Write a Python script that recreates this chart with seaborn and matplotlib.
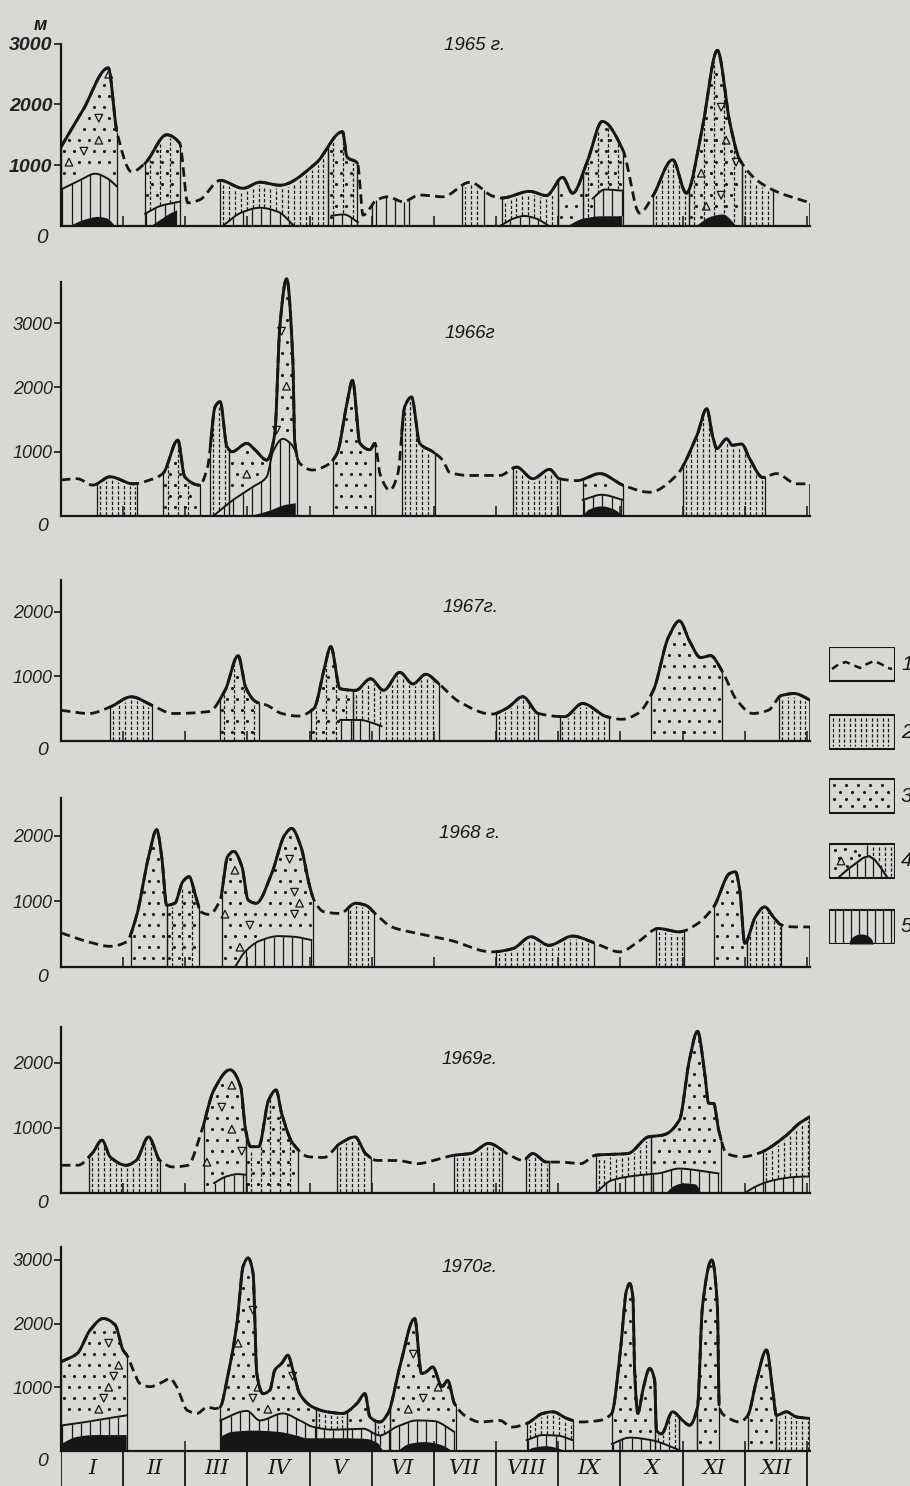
import numpy as np
import matplotlib
matplotlib.use("Agg")
import matplotlib.pyplot as plt
from matplotlib.patches import Rectangle
import seaborn as sns

sns.set_theme(style="white")
plt.rcParams['font.family'] = ['Liberation Sans', 'DejaVu Sans']

# ---------------- data (month units 0..12, values in metres) ----------------
MONTHS = ['I', 'II', 'III', 'IV', 'V', 'VI', 'VII', 'VIII', 'IX', 'X', 'XI', 'XII']
TITLES = ['1965 г.', '1966г', '1967г.', '1968 г.', '1969г.', '1970г.']
LEGEND_LABELS = ['1', '2', '3', '4', '5']

X65 = [0.00, 0.35, 0.76, 0.90, 1.14, 1.35, 1.70, 1.91, 2.04, 2.23, 2.56, 2.93, 3.20, 3.52, 4.10, 4.53, 4.60, 4.77, 4.86,
       5.08, 5.26, 5.50, 5.77, 6.14, 6.58, 6.95, 7.09, 7.54, 7.81, 8.07, 8.23, 8.46, 8.71, 9.04, 9.31, 9.52, 9.84,
       10.06, 10.32, 10.56, 10.76, 10.92, 11.40, 12.05]
Y65 = [1300, 1900, 2600, 1550, 890, 1030, 1500, 1360, 380, 430, 750, 620, 720, 670, 1030, 1550, 1140, 1030, 180,
       430, 480, 400, 510, 480, 720, 490, 460, 570, 500, 800, 540, 1040, 1720, 1250, 210, 490, 1090,
       540, 1630, 2890, 1700, 1090, 620, 380]
SEG65 = [(0.00, 0.90, 'pt'), (1.35, 1.91, 'dp'), (2.56, 4.30, 'd'), (4.30, 4.77, 'dp'), (5.00, 5.60, 'v'),
         (6.45, 6.80, 'd'), (7.09, 8.00, 'd'), (8.00, 8.40, 'p'), (8.40, 9.04, 'dp'), (9.52, 10.10, 'd'),
         (10.10, 10.95, 'dpt'), (10.95, 11.45, 'd')]
DASHFILL65 = [(5.00, 5.60), (6.45, 6.80), (10.95, 11.45)]
LOW65 = [[(0.00, 600), (0.30, 750), (0.55, 860), (0.75, 780), (0.90, 650)],
         [(1.35, 200), (1.60, 330), (1.91, 400)],
         [(2.60, 0), (2.90, 220), (3.20, 300), (3.50, 230), (3.75, 0)],
         [(4.35, 170), (4.55, 190), (4.78, 60)],
         [(7.06, 0), (7.30, 130), (7.45, 165), (7.65, 120), (7.85, 0)],
         [(8.55, 450), (8.75, 600), (9.04, 580)]]
BLK65 = [[(0.14, 0), (0.40, 110), (0.60, 150), (0.75, 120), (0.87, 0)],
         [(1.45, 0), (1.60, 100), (1.75, 200), (1.87, 260)],
         [(8.15, 0), (8.40, 120), (8.70, 160), (9.03, 160)],
         [(10.22, 0), (10.45, 150), (10.65, 190), (10.87, 0)]]

X66 = [0.00, 0.26, 0.51, 0.79, 1.16, 1.43, 1.64, 1.88, 1.99, 2.23, 2.36, 2.48, 2.56, 2.67, 2.75, 2.99, 3.12, 3.31, 3.44,
       3.52, 3.63, 3.73, 3.76, 3.84, 4.05, 4.28, 4.44, 4.60, 4.69, 4.81, 4.97, 5.05, 5.13, 5.29, 5.42, 5.53, 5.64,
       5.77, 5.98, 6.14, 6.25, 6.58, 7.06, 7.33, 7.59, 7.86, 8.02, 8.30, 8.67, 9.04, 9.47, 9.90, 10.23, 10.39, 10.48,
       10.55, 10.71, 10.80, 10.95, 11.08, 11.29, 11.51, 11.83, 12.05]
Y66 = [560, 580, 480, 610, 500, 560, 660, 1180, 610, 480, 770, 1700, 1780, 1080, 1000, 1130, 1030, 870, 1280,
       2940, 3690, 2420, 1160, 820, 715, 790, 970, 1750, 2110, 1130, 1030, 1130, 660, 400, 660, 1700, 1850,
       1130, 1000, 870, 680, 630, 630, 760, 580, 725, 580, 550, 660, 480, 370, 630, 1250, 1670, 1250,
       1050, 1200, 1100, 1120, 890, 600, 660, 500, 500]
SEG66 = [(0.58, 1.22, 'd'), (1.64, 2.23, 'dp'), (2.40, 2.70, 'd'), (2.70, 3.80, 'pt'), (4.37, 5.05, 'p'),
         (5.48, 6.01, 'd'), (7.27, 8.02, 'd'), (8.39, 9.04, 'p'), (10.00, 11.32, 'd')]
DASHFILL66 = []
LOW66 = [[(2.45, 0), (2.77, 250), (3.09, 455), (3.31, 610), (3.41, 1000), (3.57, 1200), (3.70, 1120), (3.78, 1000)],
         [(8.39, 250), (8.70, 330), (9.04, 250)]]
BLK66 = [[(3.05, 0), (3.35, 80), (3.60, 170), (3.78, 200)],
         [(8.39, 0), (8.50, 100), (8.70, 150), (8.90, 100), (9.04, 0)]]

X67 = [0.00, 0.45, 0.79, 1.13, 1.46, 1.80, 2.38, 2.64, 2.85, 2.97, 3.14, 3.31, 3.55, 3.81, 4.07, 4.23, 4.34, 4.49,
       4.74, 4.98, 5.19, 5.45, 5.66, 5.87, 6.08, 6.41, 6.93, 7.17, 7.43, 7.68, 8.10, 8.39, 8.78, 9.02, 9.28, 9.53,
       9.77, 9.95, 10.11, 10.29, 10.45, 10.63, 10.87, 11.13, 11.38, 11.59, 11.80, 12.05]
Y67 = [470, 420, 520, 680, 550, 420, 450, 780, 1320, 830, 600, 550, 420, 380, 500, 1090, 1460, 805,
       780, 960, 780, 1060, 880, 1030, 880, 600, 410, 500, 680, 420, 370, 575, 370, 330, 420, 780,
       1600, 1860, 1550, 1290, 1320, 1090, 630, 420, 470, 700, 730, 630]
SEG67 = [(0.79, 1.46, 'd'), (2.55, 3.18, 'dp'), (4.02, 4.70, 'dp'), (4.70, 6.08, 'd'), (7.00, 7.68, 'd'),
         (8.02, 8.81, 'd'), (9.49, 10.63, 'p'), (11.55, 12.05, 'd')]
DASHFILL67 = []
LOW67 = [[(4.49, 320), (4.80, 320), (5.05, 260), (5.16, 220)]]
BLK67 = []

X68 = [0.00, 0.45, 0.79, 1.05, 1.21, 1.41, 1.54, 1.62, 1.70, 1.83, 1.96, 2.06, 2.17, 2.25, 2.38, 2.56, 2.68, 2.78,
       2.91, 3.01, 3.14, 3.39, 3.60, 3.71, 3.86, 3.99, 4.07, 4.23, 4.49, 4.74, 4.90, 5.08, 5.32, 5.74, 6.25, 6.93,
       7.27, 7.56, 7.85, 8.23, 8.60, 8.99, 9.28, 9.61, 9.95, 10.21, 10.50, 10.76, 10.85, 10.92, 11.00, 11.17,
       11.32, 11.46, 11.59, 11.80, 12.05]
Y68 = [520, 380, 315, 380, 760, 1680, 2090, 1680, 940, 970, 1300, 1375, 1070, 840, 800, 1020, 1680, 1760,
       1530, 1020, 970, 1425, 2010, 2110, 1830, 1270, 1020, 840, 815, 970, 940, 790, 610, 510, 410, 230,
       280, 460, 330, 470, 360, 230, 380, 585, 535, 640, 915, 1425, 1450, 1170, 360, 760,
       915, 760, 640, 610, 610]
SEG68 = [(1.12, 1.70, 'p'), (1.70, 2.22, 'dp'), (2.59, 4.05, 'pt'), (4.61, 5.03, 'd'), (7.00, 8.57, 'd'),
         (9.57, 10.03, 'd'), (10.50, 11.04, 'p'), (11.04, 11.59, 'd')]
DASHFILL68 = []
LOW68 = [[(2.80, 0), (2.95, 220), (3.20, 400), (3.50, 470), (3.75, 460), (4.03, 410)]]
BLK68 = []

X69 = [0.00, 0.27, 0.50, 0.66, 0.79, 1.05, 1.21, 1.41, 1.59, 1.80, 2.04, 2.25, 2.46, 2.72, 2.89, 2.97, 3.05, 3.18,
       3.34, 3.46, 3.55, 3.73, 3.99, 4.23, 4.49, 4.73, 4.90, 5.08, 5.40, 5.74, 6.00, 6.33, 6.59, 6.88, 7.22, 7.43,
       7.59, 7.81, 8.02, 8.36, 8.60, 9.12, 9.45, 9.69, 9.95, 10.11, 10.24, 10.35, 10.42, 10.50, 10.58, 10.71,
       10.96, 11.21, 11.64, 11.88, 12.05]
Y69 = [425, 425, 605, 810, 555, 425, 500, 860, 500, 400, 425, 910, 1580, 1890, 1630, 965, 710, 710,
       1425, 1580, 1220, 760, 555, 545, 760, 860, 605, 500, 500, 450, 500, 580, 605, 760, 580, 500,
       605, 475, 475, 450, 580, 605, 860, 890, 1120, 2040, 2480, 1890, 1375, 1375, 965, 605,
       555, 605, 860, 1070, 1170]
SEG69 = [(0.45, 1.59, 'd'), (2.30, 2.97, 'pt'), (2.97, 3.81, 'dp'), (4.44, 4.98, 'd'), (6.33, 7.09, 'd'),
         (7.48, 7.85, 'd'), (8.60, 9.50, 'd'), (9.50, 10.62, 'p'), (11.30, 12.05, 'd')]
DASHFILL69 = []
LOW69 = [[(2.46, 150), (2.65, 250), (2.85, 290), (2.97, 280)],
         [(8.60, 0), (8.86, 195), (9.28, 270), (9.61, 300), (9.95, 375), (10.29, 340), (10.58, 300)],
         [(11.00, 0), (11.20, 110), (11.46, 195), (11.80, 245), (12.05, 255)]]
BLK69 = [[(9.72, 0), (9.85, 110), (10.00, 155), (10.20, 140), (10.30, 0)]]

X70 = [0.00, 0.26, 0.47, 0.68, 0.87, 1.00, 1.06, 1.16, 1.27, 1.43, 1.64, 1.75, 1.86, 2.03, 2.19, 2.35, 2.48, 2.56,
       2.67, 2.83, 2.93, 3.01, 3.09, 3.15, 3.25, 3.36, 3.44, 3.55, 3.65, 3.73, 3.84, 4.05, 4.28, 4.53, 4.76, 4.89,
       4.97, 5.13, 5.26, 5.45, 5.69, 5.80, 5.88, 5.98, 6.13, 6.22, 6.33, 6.53, 6.74, 7.06, 7.25, 7.49, 7.75, 7.91,
       8.14, 8.34, 8.67, 8.86, 8.99, 9.10, 9.15, 9.20, 9.23, 9.28, 9.36, 9.47, 9.55, 9.58, 9.66, 9.84, 10.00,
       10.11, 10.24, 10.32, 10.47, 10.56, 10.59, 10.71, 10.92, 11.05, 11.19, 11.35, 11.45, 11.51, 11.67, 11.83,
       12.05]
Y70 = [1400, 1530, 1900, 2080, 1980, 1580, 1505, 1270, 1060, 1010, 1085, 1140, 1010, 640, 590, 690, 665, 690,
       1110, 2000, 2900, 3030, 2790, 1215, 900, 955, 1270, 1375, 1505, 1270, 900, 690, 615, 590, 745, 900,
       535, 455, 590, 1320, 2080, 1215, 1245, 1320, 1010, 1110, 745, 535, 455, 480, 375, 430, 590, 615,
       510, 455, 480, 590, 1480, 2530, 2630, 2420, 1215, 590, 955, 1295, 1110, 325, 270, 615, 480,
       405, 690, 2270, 3000, 2270, 690, 535, 455, 560, 1110, 1585, 955, 560, 615, 535,
       510]
SEG70 = [(0.00, 1.06, 'pt'), (2.56, 4.10, 'pt'), (4.10, 4.60, 'd'), (4.60, 5.05, 'p'), (5.05, 5.30, 'd'),
         (5.30, 6.35, 'pt'), (7.49, 8.23, 'd'), (8.86, 9.55, 'p'), (9.55, 9.95, 'd'), (9.95, 10.24, ''),
         (10.24, 10.59, 'p'), (11.05, 11.50, 'p'), (11.50, 12.05, 'd')]
DASHFILL70 = []
LOW70 = [[(0.00, 400), (0.30, 440), (0.60, 490), (1.06, 560)],
         [(2.56, 480), (2.99, 630), (3.20, 480), (3.57, 590), (3.84, 480), (4.05, 380), (4.37, 335), (4.86, 350),
          (5.13, 245), (5.40, 380), (5.73, 480), (6.00, 470), (6.33, 300)],
         [(7.49, 170), (7.75, 250), (8.00, 240), (8.23, 170)],
         [(8.86, 110), (9.15, 210), (9.50, 170), (9.98, 0)]]
BLK70 = [[(0.00, 110), (0.25, 220), (0.55, 250), (1.06, 250)],
         [(2.56, 220), (2.75, 300), (3.10, 320), (3.50, 300), (3.80, 240), (3.95, 200), (4.50, 200), (4.90, 190),
          (5.10, 120), (5.18, 0)],
         [(5.42, 0), (5.60, 110), (5.85, 140), (6.10, 100), (6.30, 0)],
         [(7.49, 0), (7.60, 50), (7.80, 75), (8.00, 40), (8.10, 0)]]

# ---------------- style ----------------
PAPER = '#d8d8d5'
INK = '#161616'
W, H = 910, 1486
XMAX = 12.05
DASH = (0, (3.4, 1.9))


def pchip(xk, yk, x):
    xk = np.asarray(xk, float)
    yk = np.asarray(yk, float)
    x = np.asarray(x, float)
    n = len(xk)
    if n == 1:
        return np.full_like(x, yk[0])
    h = np.diff(xk)
    d = np.diff(yk) / h
    m = np.zeros(n)
    for k in range(1, n - 1):
        if d[k - 1] * d[k] > 0:
            w1 = 2 * h[k] + h[k - 1]
            w2 = h[k] + 2 * h[k - 1]
            m[k] = (w1 + w2) / (w1 / d[k - 1] + w2 / d[k])
    m[0] = d[0]
    m[-1] = d[-1]
    idx = np.clip(np.searchsorted(xk, x) - 1, 0, n - 2)
    t = (x - xk[idx]) / h[idx]
    h00 = 2 * t ** 3 - 3 * t ** 2 + 1
    h10 = t ** 3 - 2 * t ** 2 + t
    h01 = -2 * t ** 3 + 3 * t ** 2
    h11 = t ** 3 - t ** 2
    return h00 * yk[idx] + h10 * h[idx] * m[idx] + h01 * yk[idx + 1] + h11 * h[idx] * m[idx + 1]


def curve_array(xs, curves):
    arr = np.zeros_like(xs)
    for knots in curves:
        kx = [k[0] for k in knots]
        ky = [k[1] for k in knots]
        msk = (xs >= kx[0]) & (xs <= kx[-1])
        arr[msk] = np.maximum(arr[msk], np.clip(pchip(kx, ky, xs[msk]), 0, None))
    return arr


def line(ax, x, y, **kw):
    sns.lineplot(x=x, y=y, ax=ax, estimator=None, sort=False, color=INK, **kw)


def draw_pattern(ax, x0, x1, kind, xs, prof, floor, ppk):
    fp = lambda v: np.interp(v, xs, prof)
    ff = lambda v: np.interp(v, xs, floor)
    px = 1000.0 / ppk  # metres per pixel
    both = ('d' in kind) and ('p' in kind)
    if 'd' in kind:
        dx = 0.16 if both else 0.095
        vx = np.arange(x0 + dx * 0.5, x1 - dx * 0.2, dx)
        lo = ff(vx) + 1 * px
        hi = fp(vx) - 3 * px
        ok = hi > lo
        ax.vlines(vx[ok], lo[ok], hi[ok], colors=INK, linestyles=(0, (2.6, 1.6)), lw=0.9, zorder=2)
    if 'v' in kind:
        dx = 0.15
        vx = np.arange(x0 + dx * 0.5, x1, dx)
        ax.vlines(vx, ff(vx), fp(vx), colors=INK, lw=0.9, zorder=2)
    if 'p' in kind:
        dx = 0.16
        dy = 11 * px
        top = prof[(xs >= x0) & (xs <= x1)].max()
        pxs, pys = [], []
        j = 0
        y = dy * 0.8
        while y < top:
            if both:
                off = dx * (0.25 if j % 2 == 0 else 0.75)
            else:
                off = dx * (0.3 if j % 2 == 0 else 0.8)
            cx = np.arange(x0 + off, x1 - dx * 0.2, dx)
            ok = (y > ff(cx) + 5 * px) & (y < fp(cx) - 5 * px)
            pxs.extend(cx[ok])
            pys.extend([y] * int(ok.sum()))
            j += 1
            y += dy
        pxs = np.array(pxs)
        pys = np.array(pys)
        tri = np.zeros(len(pxs), bool)
        if 't' in kind and len(pxs) > 0:
            tri[3::7] = True
        ax.scatter(pxs[~tri], pys[~tri], s=5, color=INK, linewidths=0, zorder=2)
        if tri.any():
            tx, ty = pxs[tri], pys[tri]
            up = np.arange(len(tx)) % 2 == 0
            ax.scatter(tx[up], ty[up], marker='^', s=30, facecolors='none', edgecolors=INK, linewidths=0.9,
                       zorder=2)
            ax.scatter(tx[~up], ty[~up], marker='v', s=30, facecolors='none', edgecolors=INK, linewidths=0.9,
                       zorder=2)


PANELS = [
    dict(X=X65, Y=Y65, SEG=SEG65, DF=DASHFILL65, LOW=LOW65, BLK=BLK65, base=226, ppk=60.8, ytop=3080, spine=3000,
         ticks=[1000, 2000, 3000], tpos=(475, 46), fs=14, fw='bold'),
    dict(X=X66, Y=Y66, SEG=SEG66, DF=DASHFILL66, LOW=LOW66, BLK=BLK66, base=516, ppk=64.3, ytop=3760, spine=3640,
         ticks=[1000, 2000, 3000], tpos=(470, 333), fs=13, fw='normal'),
    dict(X=X67, Y=Y67, SEG=SEG67, DF=DASHFILL67, LOW=LOW67, BLK=BLK67, base=740.5, ppk=64.3, ytop=2500, spine=2500,
         ticks=[1000, 2000], tpos=(471, 607), fs=13, fw='normal'),
    dict(X=X68, Y=Y68, SEG=SEG68, DF=DASHFILL68, LOW=LOW68, BLK=BLK68, base=967, ppk=65.7, ytop=2570, spine=2570,
         ticks=[1000, 2000], tpos=(470, 834), fs=13, fw='normal'),
    dict(X=X69, Y=Y69, SEG=SEG69, DF=DASHFILL69, LOW=LOW69, BLK=BLK69, base=1193, ppk=65.2, ytop=2550, spine=2550,
         ticks=[1000, 2000], tpos=(470, 1060), fs=13, fw='normal'),
    dict(X=X70, Y=Y70, SEG=SEG70, DF=DASHFILL70, LOW=LOW70, BLK=BLK70, base=1451, ppk=63.7, ytop=3200, spine=3200,
         ticks=[1000, 2000, 3000], tpos=(470, 1268), fs=13, fw='normal'),
]

fig = plt.figure(figsize=(W / 100, H / 100), dpi=100)
fig.patch.set_facecolor(PAPER)

AX_L = 61 / W
AX_W = 749 / W

for pi, P in enumerate(PANELS):
    hpx = P['ytop'] * P['ppk'] / 1000.0
    ax = fig.add_axes([AX_L, 1 - P['base'] / H, AX_W, hpx / H])
    ax.set_facecolor('none')
    ax.set_xlim(0, XMAX)
    ax.set_ylim(0, P['ytop'])
    xs = np.linspace(0, XMAX, 3000)
    prof = pchip(P['X'], P['Y'], xs)
    low = curve_array(xs, P['LOW'])
    blk = curve_array(xs, P['BLK'])
    floor = np.maximum(low, blk)

    # whole profile dashed (type 1)
    line(ax, xs, prof, linestyle=DASH, linewidth=2.0, zorder=4)

    # black cores (type 5)
    ax.fill_between(xs, 0, blk, where=blk > 0, color=INK, lw=0, zorder=3)

    # layer 4 curves with solid verticals below
    for knots in P['LOW']:
        kx = [k[0] for k in knots]
        ky = [k[1] for k in knots]
        cx = np.linspace(kx[0], kx[-1], 200)
        cy = np.clip(pchip(kx, ky, cx), 0, None)
        line(ax, cx, cy, linewidth=1.4, zorder=3)
        vx = np.arange(kx[0] + 0.02, kx[-1] + 1e-6, 0.15)
        vlo = np.interp(vx, xs, blk)
        vhi = np.interp(vx, cx, cy)
        ok = vhi > vlo
        ax.vlines(vx[ok], vlo[ok], vhi[ok], colors=INK, lw=0.9, zorder=2)

    dashed_fills = [tuple(d) for d in P['DF']]
    for (x0, x1, kind) in P['SEG']:
        draw_pattern(ax, x0, x1, kind, xs, prof, floor, P['ppk'])
        for xb in (x0, x1):
            yb = np.interp(xb, xs, prof)
            ax.vlines([xb], [0], [yb], colors=INK, lw=0.9, zorder=2)
        if (x0, x1) in dashed_fills:
            continue
        msk = (xs >= x0) & (xs <= x1)
        line(ax, xs[msk], prof[msk], linewidth=2.1, zorder=5)

    # right closing line
    ax.vlines([XMAX - 0.005], [0], [prof[-1]], colors=INK, lw=1.1, zorder=3)

    # axes cosmetics
    sns.despine(ax=ax, top=True, right=True)
    ax.spines['left'].set_bounds(0, P['spine'])
    ax.spines['left'].set_linewidth(1.6)
    ax.spines['bottom'].set_linewidth(1.6)
    ax.spines['left'].set_color(INK)
    ax.spines['bottom'].set_color(INK)
    ax.set_xticks(range(13))
    ax.tick_params(axis='x', direction='in', length=7, width=1.1, color=INK, labelbottom=False, bottom=True)
    ax.set_yticks(P['ticks'])
    ax.set_yticklabels([str(t) for t in P['ticks']], fontstyle='italic', fontsize=P['fs'], color='#222222',
                       fontweight=P['fw'])
    ax.tick_params(axis='y', direction='out', length=5, width=1.2, color=INK, pad=1, left=True)
    ax.text(-0.30, -30, '0', fontstyle='italic', fontsize=P['fs'] + 1, color='#222222', ha='center', va='top')
    ax.grid(False)
    fig.text(P['tpos'][0] / W, 1 - P['tpos'][1] / H, TITLES[pi], fontstyle='italic', fontsize=13.5,
             color=INK, ha='center', va='center')

# unit label
fig.text(40 / W, 1 - 25 / H, 'м', fontstyle='italic', fontsize=13, color=INK, ha='center', va='center',
         fontweight='bold')

# month strip
axm = fig.add_axes([AX_L, 0, AX_W, 35 / H])
axm.set_facecolor('none')
axm.set_xlim(0, XMAX)
axm.set_ylim(0, 1)
axm.axis('off')
axm.vlines(range(13), 0, 1, colors=INK, lw=1.3)
for i, m in enumerate(MONTHS):
    axm.text(i + 0.5, 0.5, m, ha='center', va='center', fontsize=15, fontstyle='italic',
             family=['DejaVu Serif'], color=INK)

# legend
axl = fig.add_axes([829 / W, 1 - 944 / H, 66 / W, 297 / H])
axl.set_xlim(0, 66)
axl.set_ylim(297, 0)
axl.axis('off')
axl.set_facecolor('none')
tops = [0, 68, 132, 197, 263]
bh = 34
for k, t in enumerate(tops):
    axl.add_patch(Rectangle((0, t), 66, bh, fill=False, ec=INK, lw=1.5))
    axl.text(72, t + bh / 2, LEGEND_LABELS[k], fontstyle='italic', fontsize=15, color=INK, va='center',
             ha='left', clip_on=False)
# 1: dashed wavy line
wx = [3, 10, 17, 24, 31, 38, 45, 52, 59, 63]
wy = [22, 17, 15, 18, 21, 17, 14, 17, 21, 22]
axl.plot(wx, [tops[0] + v for v in wy], color=INK, lw=1.8, linestyle=(0, (3, 2)))
# 2: dashed verticals
lx = np.arange(4, 64, 5.5)
axl.vlines(lx, tops[1] + 3, tops[1] + bh - 3, colors=INK, lw=0.9, linestyles=(0, (2.6, 1.6)))
# 3: dots
for r, yy in enumerate([6, 13, 20, 27]):
    dxs = np.arange(5 + (r % 2) * 6, 64, 12)
    axl.scatter(dxs, [tops[2] + yy] * len(dxs), s=5, color=INK, linewidths=0)
# 4: mixed sample
t4 = tops[3]
cx4 = [10, 18, 26, 34, 40, 46, 52, 58]
cy4 = [33, 26, 20, 14, 12, 16, 24, 33]
axl.plot(cx4, [t4 + v for v in cy4], color=INK, lw=1.5)
axl.vlines([20, 28, 36, 44, 52], [t4 + 25, t4 + 19, t4 + 14, t4 + 13, t4 + 21], t4 + bh, colors=INK, lw=0.9)
axl.vlines([38], t4 + 1, t4 + 12, colors=INK, lw=0.9)
axl.vlines([44, 50, 56, 62], t4 + 3, [t4 + 14, t4 + 19, t4 + 28, t4 + 32], colors=INK, lw=0.9,
           linestyles=(0, (2.6, 1.6)))
axl.scatter([6, 16, 26, 10, 22, 30, 6, 18], [t4 + 6, t4 + 5, t4 + 7, t4 + 14, t4 + 14, t4 + 11, t4 + 24, t4 + 22],
            s=5, color=INK, linewidths=0)
axl.scatter([12], [t4 + 17], marker='^', s=30, facecolors='none', edgecolors=INK, linewidths=0.9)
# 5: solid verticals with black core
t5 = tops[4]
axl.vlines(np.arange(6, 64, 8), t5, t5 + bh, colors=INK, lw=0.9)
ex = np.linspace(20, 44, 60)
ey = 10 * np.sqrt(np.clip(1 - ((ex - 32) / 12) ** 2, 0, None))
axl.fill_between(ex, t5 + bh, t5 + bh - ey, color=INK, lw=0)

fig.savefig('out.png', dpi=100, facecolor=PAPER)
